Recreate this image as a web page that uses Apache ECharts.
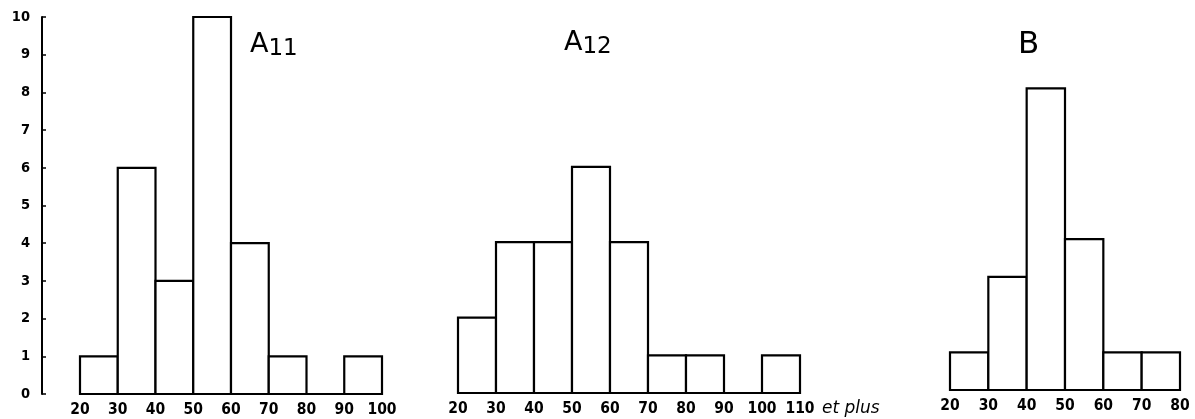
<!DOCTYPE html>
<html>
<head>
<meta charset="utf-8">
<script src="https://cdn.jsdelivr.net/npm/echarts@6/dist/echarts.min.js"></script>
<style>
  html, body { margin: 0; padding: 0; background: #fff; }
  #chart { width: 1195px; height: 419px; }
</style>
</head>
<body>
<div id="chart"></div>
<script>
// Class edges (lower bound of each 10-unit class) and counts per group
const edgesA11 = [20, 30, 40, 50, 60, 70, 80, 90, 100];
const countsA11 = [1, 6, 3, 10, 4, 1, 0, 1];

const edgesA12 = [20, 30, 40, 50, 60, 70, 80, 90, 100, 110];
const countsA12 = [2, 4, 4, 6, 4, 1, 1, 0, 1];

const edgesB = [20, 30, 40, 50, 60, 70, 80];
const countsB = [1, 3, 8, 4, 1, 1];

const yTicks = [0, 1, 2, 3, 4, 5, 6, 7, 8, 9, 10];

const INK = '#000';
const FONT = 'DejaVu Sans';
const FONT_NARROW = 'DejaVu Sans Condensed, DejaVu Sans';

function bins(edges, counts) {
  return counts.map((c, i) => [edges[i], edges[i + 1], c]);
}

// One rectangle per class, from its lower to its upper edge
function renderBin(params, api) {
  const count = api.value(2);
  if (!count) return null;
  const base = api.coord([api.value(0), 0]);
  const top = api.coord([api.value(1), count]);
  return {
    type: 'rect',
    shape: { x: base[0], y: top[1], width: top[0] - base[0], height: base[1] - top[1] },
    style: { fill: '#fff', stroke: INK, lineWidth: 2.2 }
  };
}

function xAxisFor(gridIndex, edges, extra) {
  return Object.assign({
    type: 'value',
    gridIndex: gridIndex,
    min: edges[0],
    max: edges[edges.length - 1],
    interval: 10,
    axisLine: { show: true, lineStyle: { color: INK, width: 2.2 } },
    axisTick: { show: false },
    splitLine: { show: false },
    axisLabel: { color: INK, fontFamily: FONT_NARROW, fontSize: 15.5, fontWeight: 'bold', margin: 8,
                 showMinLabel: true, showMaxLabel: true }
  }, extra || {});
}

function yAxisFor(gridIndex, visible) {
  return {
    type: 'value',
    gridIndex: gridIndex,
    min: yTicks[0],
    max: yTicks[yTicks.length - 1],
    interval: 1,
    show: visible,
    offset: 38,
    axisLine: { show: true, lineStyle: { color: INK, width: 2 } },
    axisTick: { show: true, inside: true, length: 4, lineStyle: { color: INK, width: 1.5 } },
    splitLine: { show: false },
    axisLabel: { color: INK, fontFamily: FONT_NARROW, fontSize: 14.5, fontWeight: 'bold', margin: 12,
                 verticalAlign: 'middle', padding: [0, 0, 7, 0] }
  };
}

const titleRich = {
  a: { fontFamily: FONT, fontSize: 27, color: INK, fontWeight: 'normal' },
  s: { fontFamily: FONT, fontSize: 23, color: INK, fontWeight: 'normal', padding: [9, 0, 0, 0] },
  b: { fontFamily: FONT, fontSize: 31, color: INK, fontWeight: 'normal' }
};

const chart = echarts.init(document.getElementById('chart'), null, { renderer: 'canvas' });

chart.setOption({
  backgroundColor: '#fff',
  animation: false,
  title: [
    { text: '{a|A}{s|11}', left: 245, top: 24, textStyle: { rich: titleRich } },
    { text: '{a|A}{s|12}', left: 559, top: 22, textStyle: { rich: titleRich } },
    { text: '{b|B}', left: 1013, top: 24, textStyle: { rich: titleRich } }
  ],
  grid: [
    { left: 80, top: 17, width: 302, height: 377 },
    { left: 458, top: 16, width: 342, height: 377 },
    { left: 950, top: 13, width: 230, height: 377 }
  ],
  xAxis: [
    xAxisFor(0, edgesA11),
    xAxisFor(1, edgesA12, {
      name: 'et plus',
      nameLocation: 'end',
      nameGap: 22,
      nameTextStyle: { color: INK, fontFamily: FONT, fontSize: 17, fontStyle: 'italic',
                       verticalAlign: 'top', padding: [7, 0, 0, 0] }
    }),
    xAxisFor(2, edgesB)
  ],
  yAxis: [yAxisFor(0, true), yAxisFor(1, false), yAxisFor(2, false)],
  series: [
    { type: 'custom', name: 'A11', xAxisIndex: 0, yAxisIndex: 0, renderItem: renderBin,
      encode: { x: [0, 1], y: 2 }, data: bins(edgesA11, countsA11) },
    { type: 'custom', name: 'A12', xAxisIndex: 1, yAxisIndex: 1, renderItem: renderBin,
      encode: { x: [0, 1], y: 2 }, data: bins(edgesA12, countsA12) },
    { type: 'custom', name: 'B', xAxisIndex: 2, yAxisIndex: 2, renderItem: renderBin,
      encode: { x: [0, 1], y: 2 }, data: bins(edgesB, countsB) }
  ]
});
</script>
</body>
</html>
